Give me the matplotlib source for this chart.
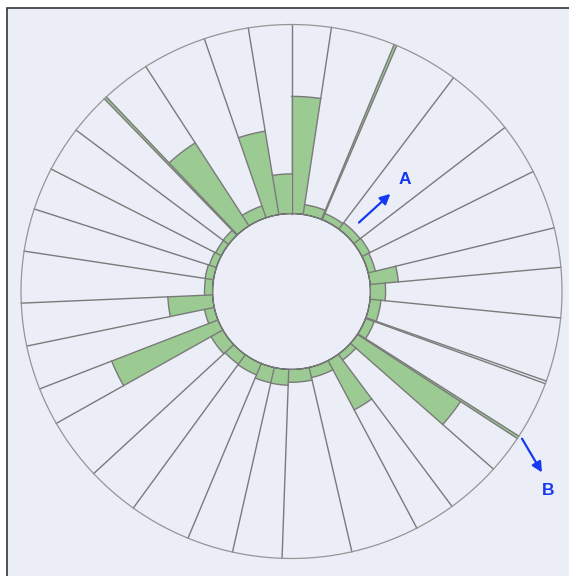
"""Polar segment chart with inner green bars and two callout arrows."""

import numpy as np
import matplotlib
matplotlib.use("Agg")
import matplotlib.pyplot as plt
from matplotlib.patches import Rectangle

# segment angular widths (degrees, clockwise from north) and bar values (0-100)
seg_widths = [8.5, 13.8, 0.6, 13.9, 15.3, 11.2, 12.9, 8.6, 10.9, 13.9,
              0.6, 12.6, 0.6, 8.3, 11.9, 8.8, 14.7, 14.9, 10.6, 9.9,
              13.3, 11.2, 13.4, 8.2, 9.6, 9.3, 11.2, 9.3, 9.3, 9.9,
              9.0, 0.6, 10.6, 13.8, 9.6, 9.2]
seg_values = [62, 5.2, 100, 3.6, 4.2, 4.5, 3.9, 14.8, 7.9, 5.7,
              4, 4.8, 100, 64.5, 3.8, 29.4, 5.5, 6.8, 8.4, 8.3,
              6.5, 6.2, 7.1, 59.6, 5.2, 23.4, 4.2, 4.4, 3.9, 3.4,
              3.6, 100, 52.1, 6.6, 44.7, 21]
max_value = 100
hole = 41.2

# callouts: (label, tail angle, tail r, head angle, head r, text angle, text r)
callouts = [
    ("A", 44.0, 9.5, 45.0, 31.8, 45.1, 42.5),
    ("B", 122.9, 102.1, 126.2, 120.8, 128.1, 129.1),
]

BG = "#ebeef6"
GREEN = "#9bca92"
EDGE = "#7a7a7a"
BLUE = "#1539f2"

widths = np.deg2rad(seg_widths)
starts = np.concatenate([[0.0], np.cumsum(widths)[:-1]])

fig = plt.figure(figsize=(5.69, 5.76), dpi=100, facecolor="white")
fig.patches.append(Rectangle((7 / 569, -0.1), 1.2, 0.1 + 568 / 576,
                             transform=fig.transFigure, facecolor=BG,
                             edgecolor="#333333", linewidth=1.2, zorder=-10))

ax = fig.add_axes([21 / 569, 17.5 / 576, 541 / 569, 534 / 576], projection="polar")
ax.set_aspect("auto")
ax.set_facecolor("none")
ax.set_theta_zero_location("N")
ax.set_theta_direction(-1)

# green bars (fill only) with their outer edges
ax.bar(starts, seg_values, width=widths, bottom=0, align="edge",
       color=GREEN, linewidth=0, zorder=2)
for s, w, v in zip(starts, widths, seg_values):
    if v < max_value:
        t = np.linspace(s, s + w, 30)
        ax.plot(t, np.full_like(t, v), color=EDGE, lw=1.0, zorder=3)

# segment boundaries, inner and outer rings
for s in starts:
    ax.plot([s, s], [0, max_value], color=EDGE, lw=1.0, zorder=4,
            clip_on=False)
ring = np.linspace(0, 2 * np.pi, 400)
ax.plot(ring, np.zeros_like(ring), color=EDGE, lw=1.0, zorder=4, clip_on=False)
ax.plot(ring, np.full_like(ring, max_value), color="#959595", lw=0.9,
        zorder=4, clip_on=False)

ax.set_ylim(0, max_value)
ax.set_rorigin(-hole)
ax.grid(False)
ax.set_xticks([])
ax.set_yticks([])
for sp in ax.spines.values():
    sp.set_visible(False)

for label, ta, tr, ha_, hr, xa, xr in callouts:
    ax.annotate("", xy=(np.deg2rad(ha_), hr), xytext=(np.deg2rad(ta), tr),
                arrowprops=dict(arrowstyle="-|>", color=BLUE, lw=1.6,
                                mutation_scale=15, shrinkA=0, shrinkB=0),
                annotation_clip=False, zorder=5)
    ax.text(np.deg2rad(xa), xr, label, color=BLUE, fontsize=12.5,
            fontweight="bold", family="Liberation Sans",
            ha="center", va="center", zorder=5, clip_on=False)

fig.savefig("out.png", dpi=100, facecolor="white")
